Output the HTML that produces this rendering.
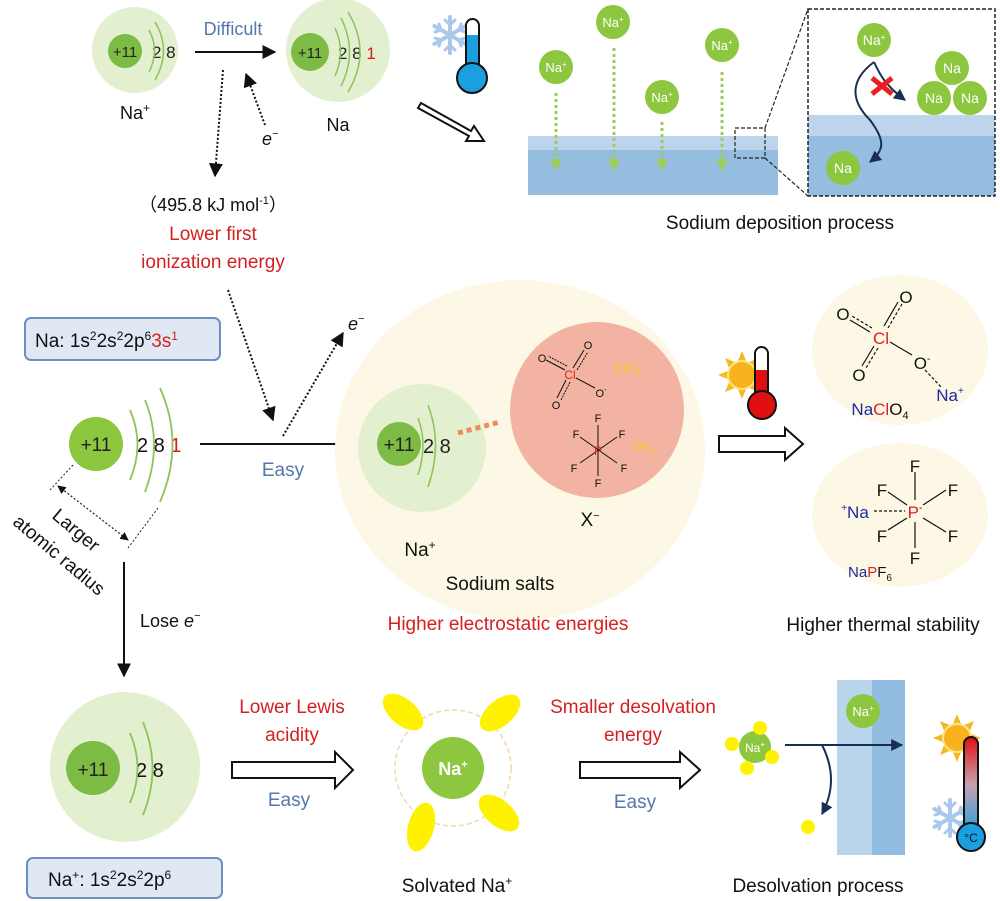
<!DOCTYPE html>
<html><head><meta charset="utf-8"><style>
html,body{margin:0;padding:0;background:#fff}
svg{display:block}
text{font-family:"Liberation Sans",Arial,sans-serif}
</style></head><body>
<svg width="1000" height="901" viewBox="0 0 1000 901" xmlns="http://www.w3.org/2000/svg">
<defs>
<marker id="ah" viewBox="0 0 10 10" refX="9" refY="5" markerWidth="7" markerHeight="7" orient="auto-start-reverse"><path d="M0,0 L10,5 L0,10 z" fill="#111"/></marker>
<marker id="ahn" viewBox="0 0 10 10" refX="9" refY="5" markerWidth="6" markerHeight="6" orient="auto"><path d="M0,0 L10,5 L0,10 z" fill="#1a2d55"/></marker>
<marker id="ahg" viewBox="0 0 10 10" refX="9" refY="5" markerWidth="4" markerHeight="4" orient="auto"><path d="M0,0 L10,5 L0,10 z" fill="#9ccd5a"/></marker>
<linearGradient id="tg" x1="0" y1="0" x2="0" y2="1"><stop offset="0" stop-color="#e01010"/><stop offset="0.5" stop-color="#c8a0b0"/><stop offset="1" stop-color="#2aa0e0"/></linearGradient>
<g id="flake" stroke="#a9c8ec" stroke-width="4" fill="none" stroke-linecap="round">
<path d="M0,-18V18M-15.6,-9L15.6,9M-15.6,9L15.6,-9"/>
<path d="M-5,-15L0,-10L5,-15M-5,15L0,10L5,15M-15,-3L-9,-5L-11,-11M15,3L9,5L11,11M-15,3L-9,5L-11,11M15,-3L9,-5L11,-11" stroke-width="3"/>
</g>
<g id="sun"><g fill="#f5b820"><polygon points="0,-24 5,-12 -5,-12"/><polygon points="0,24 5,12 -5,12"/><polygon points="-24,0 -12,5 -12,-5"/><polygon points="24,0 12,5 12,-5"/><polygon points="-17,-17 -5,-12 -12,-5"/><polygon points="17,17 5,12 12,5"/><polygon points="17,-17 5,-12 12,-5"/><polygon points="-17,17 -5,12 -12,5"/></g><circle r="14" fill="#f7b21e" stroke="#fde68a" stroke-width="2"/></g>
</defs>

<!-- TOP LEFT -->
<circle cx="135" cy="50" r="43" fill="#e3f0cf"/>
<circle cx="125" cy="51" r="17" fill="#7dbb45"/>
<text x="125" y="57" font-size="15" text-anchor="middle" fill="#222">+11</text>
<text x="152" y="58" font-size="17" fill="#222">2 8</text>
<path d="M149,30 Q160,50 149,72 M155,22 Q172,50 155,80" stroke="#8cc35a" stroke-width="1.5" fill="none"/>
<text x="135" y="119" font-size="18" text-anchor="middle" fill="#111">Na<tspan font-size="12" dy="-7">+</tspan></text>
<text x="233" y="35" font-size="18" text-anchor="middle" fill="#5577aa">Difficult</text>
<line x1="195" y1="52" x2="275" y2="52" stroke="#111" stroke-width="2" marker-end="url(#ah)"/>
<circle cx="338" cy="50" r="52" fill="#e3f0cf"/>
<circle cx="310" cy="52" r="19" fill="#7dbb45"/>
<text x="310" y="58" font-size="15" text-anchor="middle" fill="#222">+11</text>
<text x="338" y="59" font-size="17" fill="#222">2 8 <tspan fill="#d02020">1</tspan></text>
<path d="M335,28 Q346,52 335,76 M341,18 Q358,52 341,86 M348,12 Q372,52 348,92" stroke="#8cc35a" stroke-width="1.5" fill="none"/>
<text x="338" y="131" font-size="18" text-anchor="middle" fill="#111">Na</text>
<line x1="223" y1="70" x2="215" y2="176" stroke="#111" stroke-width="2" stroke-dasharray="2,2" marker-end="url(#ah)"/>
<line x1="265" y1="125" x2="246" y2="74" stroke="#111" stroke-width="2" stroke-dasharray="2,2" marker-end="url(#ah)"/>
<text x="262" y="145" font-size="18" font-style="italic" fill="#111">e<tspan font-size="11" dy="-8">−</tspan></text>
<text x="213" y="211" font-size="18" text-anchor="middle" fill="#111">（495.8 kJ mol<tspan font-size="11" dy="-7">-1</tspan><tspan dy="7">）</tspan></text>
<text x="213" y="240" font-size="19" text-anchor="middle" fill="#d42020">Lower first</text>
<text x="213" y="268" font-size="19" text-anchor="middle" fill="#d42020">ionization energy</text>

<!-- snow thermometer -->
<use href="#flake" x="450" y="35"/>
<rect x="466" y="19" width="13" height="60" rx="6.5" fill="#fff" stroke="#111" stroke-width="2"/>
<rect x="467" y="35" width="11" height="40" fill="#1aa0e0"/>
<circle cx="472" cy="78" r="15" fill="#1aa0e0" stroke="#111" stroke-width="2"/>
<polygon points="421,103 471,131 474,126 484,141 466,141 469,136 418,108" fill="#fff" stroke="#111" stroke-width="2"/>

<!-- deposition -->
<rect x="528" y="136" width="250" height="59" fill="#94bde0"/>
<rect x="528" y="136" width="250" height="14" fill="#bcd5ec"/>
<g stroke="#9ccd5a" stroke-width="3" stroke-dasharray="3,3" marker-end="url(#ahg)">
<line x1="556" y1="93" x2="556" y2="170"/><line x1="614" y1="48" x2="614" y2="170"/><line x1="662" y1="122" x2="662" y2="170"/><line x1="722" y1="72" x2="722" y2="170"/>
</g>
<g fill="#8dc63f"><circle cx="556" cy="67" r="17"/><circle cx="613" cy="22" r="17"/><circle cx="662" cy="97" r="17"/><circle cx="722" cy="45" r="17"/></g>
<g fill="#fff" font-size="13" text-anchor="middle">
<text x="556" y="72">Na<tspan font-size="8" dy="-5">+</tspan></text><text x="613" y="27">Na<tspan font-size="8" dy="-5">+</tspan></text><text x="662" y="102">Na<tspan font-size="8" dy="-5">+</tspan></text><text x="722" y="50">Na<tspan font-size="8" dy="-5">+</tspan></text></g>
<rect x="735" y="128" width="30" height="30" fill="none" stroke="#222" stroke-width="1.2" stroke-dasharray="4,2"/>
<line x1="765" y1="128" x2="808" y2="9" stroke="#222" stroke-width="1.2" stroke-dasharray="4,2"/>
<line x1="765" y1="158" x2="808" y2="196" stroke="#222" stroke-width="1.2" stroke-dasharray="4,2"/>
<rect x="808" y="115" width="187" height="81" fill="#94bde0"/>
<rect x="808" y="115" width="187" height="21" fill="#bcd5ec"/>
<rect x="808" y="9" width="187" height="187" fill="none" stroke="#222" stroke-width="1.5" stroke-dasharray="4,2"/>
<g fill="#8dc63f"><circle cx="874" cy="40" r="17"/><circle cx="952" cy="68" r="17"/><circle cx="934" cy="98" r="17"/><circle cx="970" cy="98" r="17"/><circle cx="843" cy="168" r="17"/></g>
<g fill="#fff" font-size="14" text-anchor="middle">
<text x="874" y="45">Na<tspan font-size="8" dy="-5">+</tspan></text><text x="952" y="73">Na</text><text x="934" y="103">Na</text><text x="970" y="103">Na</text><text x="843" y="173">Na</text></g>
<path d="M874,62 C850,80 850,100 870,120 C885,140 885,150 870,162" stroke="#1a2d55" stroke-width="2" fill="none" marker-end="url(#ahn)"/>
<path d="M874,62 C880,75 885,85 905,100" stroke="#1a2d55" stroke-width="2" fill="none" marker-end="url(#ahn)"/>
<path d="M872,78 L892,94 M892,78 L872,94" stroke="#e82020" stroke-width="5"/>
<text x="780" y="229" font-size="19" text-anchor="middle" fill="#111">Sodium deposition process</text>

<!-- MIDDLE -->
<rect x="25" y="318" width="195" height="42" rx="6" fill="#dfe8f3" stroke="#6b8fc0" stroke-width="2"/>
<text x="35" y="347" font-size="19" fill="#111">Na: 1s<tspan font-size="12" dy="-7">2</tspan><tspan dy="7">2s</tspan><tspan font-size="12" dy="-7">2</tspan><tspan dy="7">2p</tspan><tspan font-size="12" dy="-7">6</tspan><tspan dy="7" fill="#d42020">3s</tspan><tspan font-size="12" dy="-7" fill="#d42020">1</tspan></text>
<circle cx="96" cy="444" r="27" fill="#8dc63f"/>
<text x="96" y="451" font-size="19" text-anchor="middle" fill="#222">+11</text>
<text x="137" y="452" font-size="20" fill="#111">2 8 <tspan fill="#d02020">1</tspan></text>
<path d="M130,410 Q145,444 130,480 M145,400 Q163,444 145,492 M160,388 Q185,444 160,502" stroke="#8cc35a" stroke-width="1.8" fill="none"/>
<line x1="200" y1="444" x2="360" y2="444" stroke="#111" stroke-width="2" marker-end="url(#ah)"/>
<text x="283" y="476" font-size="19" text-anchor="middle" fill="#5577aa">Easy</text>
<line x1="228" y1="290" x2="273" y2="420" stroke="#111" stroke-width="2" stroke-dasharray="2,2" marker-end="url(#ah)"/>
<line x1="283" y1="436" x2="343" y2="333" stroke="#111" stroke-width="2" stroke-dasharray="2,2" marker-end="url(#ah)"/>
<text x="348" y="330" font-size="18" font-style="italic" fill="#111">e<tspan font-size="11" dy="-8">−</tspan></text>
<line x1="73" y1="465" x2="50" y2="490" stroke="#222" stroke-width="1" stroke-dasharray="2,2"/>
<line x1="158" y1="508" x2="128" y2="548" stroke="#222" stroke-width="1" stroke-dasharray="2,2"/>
<line x1="58" y1="486" x2="128" y2="540" stroke="#222" stroke-width="1.2" stroke-dasharray="2,2" marker-start="url(#ah)" marker-end="url(#ah)"/>
<text transform="translate(72,535) rotate(40)" font-size="19" text-anchor="middle" fill="#111">Larger</text>
<text transform="translate(55,560) rotate(40)" font-size="19" text-anchor="middle" fill="#111">atomic radius</text>

<ellipse cx="520" cy="450" rx="185" ry="170" fill="#fdf8e6"/>
<circle cx="422" cy="448" r="64" fill="#e3f0cf"/>
<circle cx="399" cy="444" r="22" fill="#7dbb45"/>
<text x="399" y="451" font-size="19" text-anchor="middle" fill="#222">+11</text>
<text x="423" y="453" font-size="20" fill="#222">2 8</text>
<path d="M418,418 Q428,444 418,475 M428,405 Q443,444 428,487" stroke="#8cc35a" stroke-width="1.5" fill="none"/>
<ellipse cx="597" cy="410" rx="87" ry="88" fill="#f2b3a3"/>
<line x1="458" y1="433" x2="500" y2="422" stroke="#f08a5a" stroke-width="5" stroke-dasharray="5,4"/>
<g font-size="11" fill="#111" text-anchor="middle" stroke-width="1">
<g stroke="#111"><line x1="565" y1="370" x2="546" y2="360"/><line x1="567" y1="366" x2="548" y2="356" stroke-dasharray="2,1"/><line x1="573" y1="368" x2="584" y2="350"/><line x1="577" y1="370" x2="588" y2="352" stroke-dasharray="2,1"/><line x1="566" y1="380" x2="557" y2="398"/><line x1="570" y1="382" x2="561" y2="400" stroke-dasharray="2,1"/><line x1="576" y1="378" x2="595" y2="388"/></g>
<text x="542" y="362">O</text><text x="588" y="349">O</text><text x="556" y="409">O</text><text x="601" y="397">O<tspan font-size="7" dy="-5">-</tspan></text>
<text x="570" y="379" fill="#e02020" font-size="12">Cl</text>
<g stroke="#111"><line x1="598" y1="425" x2="598" y2="476"/><line x1="580" y1="437" x2="617" y2="463"/><line x1="617" y1="437" x2="580" y2="463"/></g>
<text x="598" y="422">F</text><text x="576" y="438">F</text><text x="622" y="438">F</text><text x="574" y="472">F</text><text x="624" y="472">F</text><text x="598" y="487">F</text>
<text x="598" y="455" fill="#e02020" font-size="12">P</text>
</g>
<text x="614" y="373" font-size="13" fill="#f5d020">ClO<tspan font-size="8" dy="3">4</tspan><tspan font-size="8" dy="-8">−</tspan></text>
<text x="634" y="452" font-size="13" fill="#f5d020">PF<tspan font-size="8" dy="3">6</tspan><tspan font-size="8" dy="-8">−</tspan></text>
<text x="590" y="526" font-size="19" text-anchor="middle" fill="#111">X<tspan font-size="11" dy="-7">−</tspan></text>
<text x="420" y="556" font-size="19" text-anchor="middle" fill="#111">Na<tspan font-size="12" dy="-7">+</tspan></text>
<text x="500" y="590" font-size="19" text-anchor="middle" fill="#111">Sodium salts</text>
<text x="508" y="630" font-size="19" text-anchor="middle" fill="#d42020">Higher electrostatic energies</text>

<use href="#sun" x="742" y="375"/>
<rect x="755" y="347" width="13" height="58" rx="6.5" fill="#fff" stroke="#111" stroke-width="2"/>
<rect x="756" y="370" width="11" height="35" fill="#e01010"/>
<circle cx="762" cy="405" r="14" fill="#e01010" stroke="#111" stroke-width="2"/>
<polygon points="719,436 785,436 785,428 803,444 785,460 785,452 719,452" fill="#fff" stroke="#111" stroke-width="2"/>

<ellipse cx="900" cy="350" rx="88" ry="75" fill="#fdf8e6"/>
<ellipse cx="900" cy="515" rx="88" ry="72" fill="#fdf8e6"/>
<g font-size="17" fill="#111" text-anchor="middle">
<g stroke="#111" stroke-width="1.2"><line x1="870" y1="332" x2="850" y2="320"/><line x1="872" y1="328" x2="852" y2="316" stroke-dasharray="3,2"/><line x1="884" y1="326" x2="898" y2="302"/><line x1="888" y1="328" x2="902" y2="304" stroke-dasharray="3,2"/><line x1="874" y1="346" x2="862" y2="366"/><line x1="878" y1="348" x2="866" y2="368" stroke-dasharray="3,2"/><line x1="890" y1="342" x2="912" y2="355"/><line x1="925" y1="370" x2="942" y2="388" stroke-dasharray="3,2"/></g>
<text x="843" y="320">O</text><text x="906" y="303">O</text><text x="859" y="381">O</text><text x="922" y="369">O<tspan font-size="10" dy="-7">-</tspan></text>
<text x="881" y="344" fill="#e02020">Cl</text>
<text x="950" y="401" fill="#1a2aa0">Na<tspan font-size="10" dy="-7">+</tspan></text>
<text x="880" y="415" fill="#1a2aa0">Na<tspan fill="#e02020">Cl</tspan><tspan fill="#111">O</tspan><tspan fill="#111" font-size="11" dy="4">4</tspan></text>
<g stroke="#111" stroke-width="1.2"><line x1="915" y1="472" x2="915" y2="500"/><line x1="915" y1="522" x2="915" y2="548"/><line x1="888" y1="492" x2="907" y2="505"/><line x1="923" y1="505" x2="946" y2="490"/><line x1="907" y1="518" x2="888" y2="530"/><line x1="923" y1="518" x2="946" y2="532"/><line x1="874" y1="511" x2="905" y2="511" stroke-dasharray="3,2"/></g>
<text x="915" y="472">F</text><text x="882" y="496">F</text><text x="953" y="496">F</text><text x="882" y="542">F</text><text x="953" y="542">F</text><text x="915" y="564">F</text>
<text x="915" y="518" fill="#e02020">P<tspan fill="#111" font-size="10" dy="-7">-</tspan></text>
<text x="855" y="518" fill="#1a2aa0"><tspan font-size="10" dy="-7">+</tspan><tspan dy="7">Na</tspan></text>
<text x="870" y="577" fill="#1a2aa0" font-size="15">Na<tspan fill="#e02020">P</tspan><tspan fill="#111">F</tspan><tspan fill="#111" font-size="10" dy="4">6</tspan></text>
</g>
<text x="883" y="631" font-size="19" text-anchor="middle" fill="#111">Higher thermal stability</text>

<!-- BOTTOM -->
<line x1="124" y1="562" x2="124" y2="676" stroke="#111" stroke-width="2" marker-end="url(#ah)"/>
<text x="140" y="627" font-size="18" fill="#111">Lose <tspan font-style="italic">e</tspan><tspan font-size="11" dy="-8">−</tspan></text>
<circle cx="125" cy="767" r="75" fill="#e3f0cf"/>
<circle cx="93" cy="768" r="27" fill="#7dbb45"/>
<text x="93" y="776" font-size="19" text-anchor="middle" fill="#222">+11</text>
<text x="136" y="777" font-size="20" fill="#111">2 8</text>
<path d="M130,733 Q145,768 130,803 M143,722 Q162,768 143,815" stroke="#8cc35a" stroke-width="1.8" fill="none"/>
<rect x="27" y="858" width="195" height="40" rx="6" fill="#dfe8f3" stroke="#6b8fc0" stroke-width="2"/>
<text x="48" y="886" font-size="19" fill="#111">Na<tspan font-size="12" dy="-7">+</tspan><tspan dy="7">: 1s</tspan><tspan font-size="12" dy="-7">2</tspan><tspan dy="7">2s</tspan><tspan font-size="12" dy="-7">2</tspan><tspan dy="7">2p</tspan><tspan font-size="12" dy="-7">6</tspan></text>
<text x="292" y="713" font-size="19" text-anchor="middle" fill="#d42020">Lower Lewis</text>
<text x="292" y="741" font-size="19" text-anchor="middle" fill="#d42020">acidity</text>
<polygon points="232,762 335,762 335,752 353,770 335,788 335,778 232,778" fill="#fff" stroke="#111" stroke-width="2"/>
<text x="289" y="806" font-size="19" text-anchor="middle" fill="#5577aa">Easy</text>
<circle cx="453" cy="768" r="58" fill="none" stroke="#f0d8a8" stroke-width="1.5" stroke-dasharray="5,3"/>
<g fill="#fff200">
<ellipse cx="403" cy="712" rx="24" ry="13" transform="rotate(40 403 712)"/>
<ellipse cx="500" cy="713" rx="24" ry="13" transform="rotate(-40 500 713)"/>
<ellipse cx="421" cy="827" rx="25" ry="13" transform="rotate(-75 421 827)"/>
<ellipse cx="499" cy="813" rx="24" ry="13" transform="rotate(40 499 813)"/>
</g>
<circle cx="453" cy="768" r="31" fill="#8dc63f"/>
<text x="453" y="775" font-size="18" font-weight="bold" text-anchor="middle" fill="#fff">Na<tspan font-size="11" dy="-7">+</tspan></text>
<text x="457" y="892" font-size="19" text-anchor="middle" fill="#111">Solvated Na<tspan font-size="12" dy="-7">+</tspan></text>
<text x="633" y="713" font-size="19" text-anchor="middle" fill="#d42020">Smaller desolvation</text>
<text x="633" y="741" font-size="19" text-anchor="middle" fill="#d42020">energy</text>
<polygon points="580,762 680,762 680,752 700,770 680,788 680,778 580,778" fill="#fff" stroke="#111" stroke-width="2"/>
<text x="635" y="808" font-size="19" text-anchor="middle" fill="#5577aa">Easy</text>
<rect x="837" y="680" width="68" height="175" fill="#93bde0"/>
<rect x="837" y="680" width="35" height="175" fill="#b9d5ec"/>
<circle cx="863" cy="711" r="17" fill="#8dc63f"/>
<text x="863" y="716" font-size="13" text-anchor="middle" fill="#fff">Na<tspan font-size="8" dy="-5">+</tspan></text>
<circle cx="755" cy="747" r="16" fill="#8dc63f"/>
<g fill="#fff200"><circle cx="760" cy="728" r="7"/><circle cx="732" cy="744" r="7"/><circle cx="772" cy="757" r="7"/><circle cx="747" cy="768" r="7"/><circle cx="808" cy="827" r="7"/></g>
<text x="755" y="752" font-size="12" text-anchor="middle" fill="#fff">Na<tspan font-size="8" dy="-5">+</tspan></text>
<line x1="785" y1="745" x2="902" y2="745" stroke="#1a2d55" stroke-width="2" marker-end="url(#ahn)"/>
<path d="M822,745 Q840,780 822,814" stroke="#1a2d55" stroke-width="2" fill="none" marker-end="url(#ahn)"/>
<use href="#sun" x="957" y="738"/>
<use href="#flake" x="950" y="818"/>
<rect x="964" y="737" width="14" height="95" rx="7" fill="url(#tg)" stroke="#111" stroke-width="2"/>
<circle cx="971" cy="837" r="14" fill="#1aa0e0" stroke="#111" stroke-width="2"/>
<text x="971" y="842" font-size="12" text-anchor="middle" fill="#111">°C</text>
<text x="818" y="892" font-size="19" text-anchor="middle" fill="#111">Desolvation process</text>
</svg>
</body></html>
